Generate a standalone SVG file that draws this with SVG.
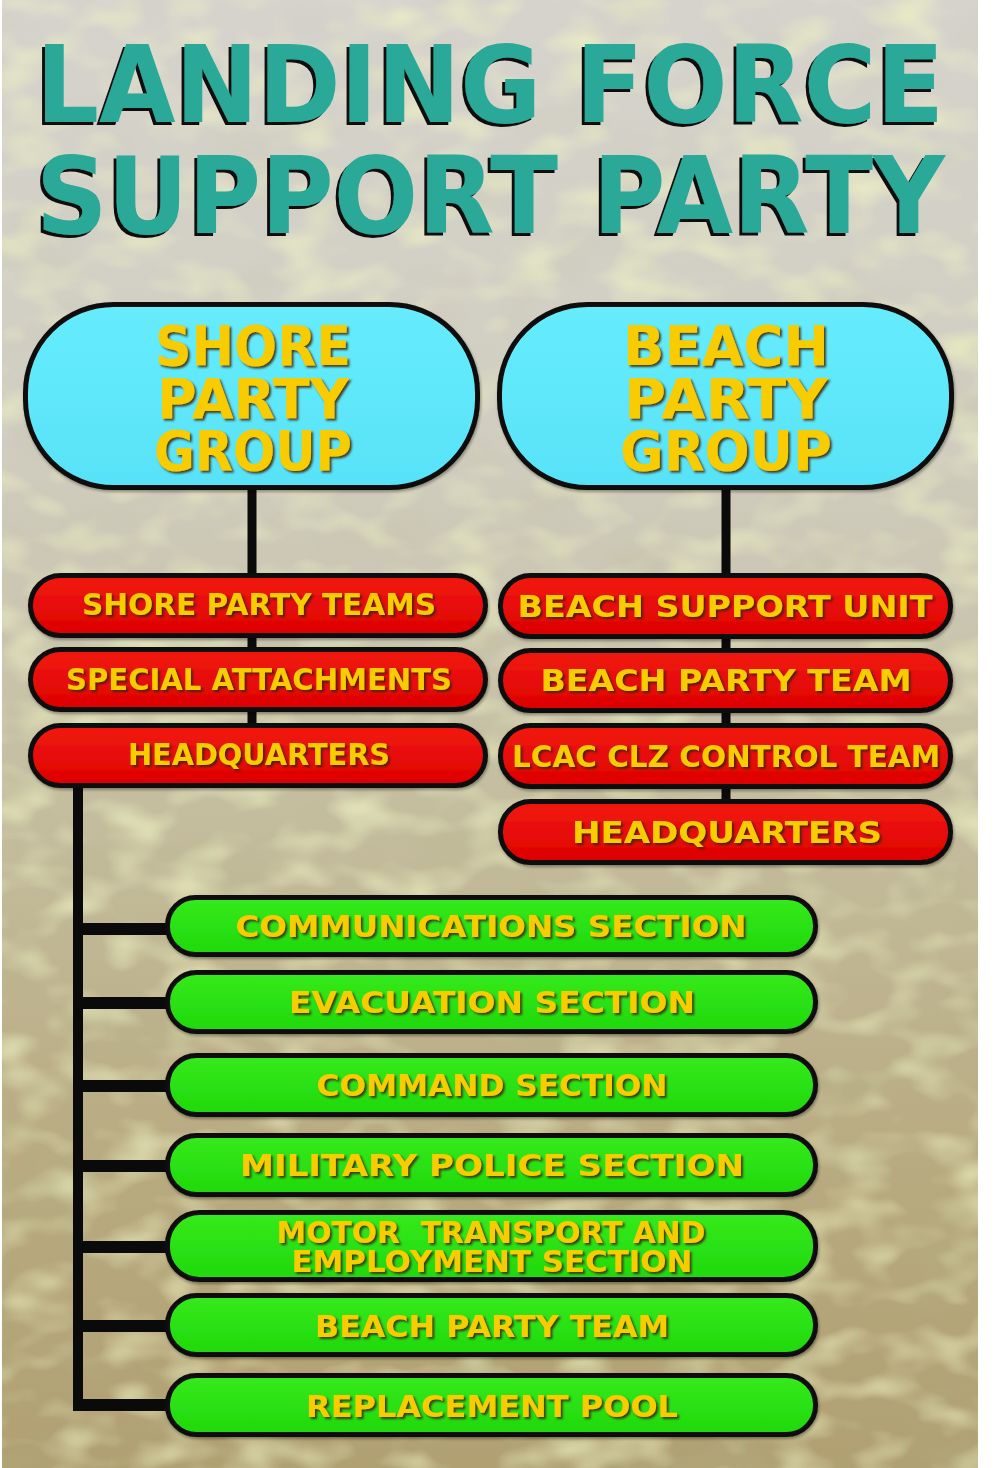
<svg xmlns="http://www.w3.org/2000/svg" width="1000" height="1468" viewBox="0 0 1000 1468">
<defs>
<linearGradient id="bg" x1="0" y1="0" x2="0" y2="1">
<stop offset="0" stop-color="#d6d3cd"/>
<stop offset="0.3" stop-color="#d0cdc0"/>
<stop offset="0.55" stop-color="#c4bd9e"/>
<stop offset="0.8" stop-color="#b8aa80"/>
<stop offset="1" stop-color="#b0a072"/>
</linearGradient>
<filter id="water" x="0" y="0" width="100%" height="100%">
<feTurbulence type="fractalNoise" baseFrequency="0.018 0.03" numOctaves="2" seed="7"/>
<feColorMatrix type="matrix" values="0 0 0 0 0.86  0 0 0 0 0.9  0 0 0 0 0.55  2.2 0 0 0 -1.0"/>
</filter>
<filter id="water2" x="0" y="0" width="100%" height="100%">
<feTurbulence type="fractalNoise" baseFrequency="0.01 0.018" numOctaves="2" seed="21"/>
<feColorMatrix type="matrix" values="0 0 0 0 0.45  0 0 0 0 0.45  0 0 0 0 0.25  2.0 0 0 0 -1.05"/>
</filter>
<linearGradient id="fade" x1="0" y1="0" x2="0" y2="1">
<stop offset="0" stop-color="#fff" stop-opacity="0.2"/>
<stop offset="1" stop-color="#fff" stop-opacity="1"/>
</linearGradient>
<mask id="fadeMask"><rect x="0" y="0" width="1000" height="1468" fill="url(#fade)"/></mask>
<linearGradient id="red" x1="0" y1="0" x2="0" y2="1">
<stop offset="0" stop-color="#f21a12"/>
<stop offset="1" stop-color="#dc0000"/>
</linearGradient>
<linearGradient id="green" x1="0" y1="0" x2="0" y2="1">
<stop offset="0" stop-color="#36ea1c"/>
<stop offset="1" stop-color="#1fd80c"/>
</linearGradient>
<linearGradient id="blue" x1="0" y1="0" x2="0" y2="1">
<stop offset="0" stop-color="#66ecfd"/>
<stop offset="1" stop-color="#58e2f8"/>
</linearGradient>
<filter id="tsh" x="-5%" y="-20%" width="110%" height="150%">
<feDropShadow dx="2" dy="2" stdDeviation="0.8" flood-color="#3a1a00" flood-opacity="0.85"/>
</filter>
<filter id="titlesh" x="-3%" y="-15%" width="106%" height="135%">
<feOffset in="SourceAlpha" dx="-3" dy="3" result="off"/>
<feFlood flood-color="#111111"/>
<feComposite in2="off" operator="in" result="sh"/>
<feMerge><feMergeNode in="sh"/><feMergeNode in="SourceGraphic"/></feMerge>
</filter>
<filter id="psh" x="-5%" y="-10%" width="110%" height="130%">
<feDropShadow dx="1" dy="2" stdDeviation="1.5" flood-color="#000" flood-opacity="0.35"/>
</filter>
</defs>
<style>
.title{font-family:"DejaVu Sans","Liberation Sans",sans-serif;font-weight:bold;font-size:97px;fill:#2aa898;filter:url(#titlesh)}
.lbl{font-family:"DejaVu Sans","Liberation Sans",sans-serif;font-weight:bold;fill:#f9cc00;text-anchor:middle;filter:url(#tsh)}
.big{font-size:55px}
.mid{font-size:30px}
.pill{stroke:#0c0c0c;stroke-width:5;filter:url(#psh)}
.rp{fill:url(#red)}
.gp{fill:url(#green)}
.bp{fill:url(#blue)}
.conn{stroke:#0a0a0a;fill:none}
</style>

<!-- background -->
<rect x="0" y="0" width="1000" height="1468" fill="#ffffff"/>
<rect x="2" y="0" width="976" height="1468" fill="url(#bg)"/>
<rect x="2" y="0" width="976" height="1468" filter="url(#water)" opacity="0.75"/>
<rect x="2" y="0" width="976" height="1468" filter="url(#water2)" opacity="0.5" mask="url(#fadeMask)"/>

<!-- title -->
<g id="title" transform="scale(1,1.1)">
<text class="title" x="36" y="111" textLength="908" lengthAdjust="spacingAndGlyphs">LANDING FORCE</text>
<text class="title" x="36" y="212" textLength="909" lengthAdjust="spacingAndGlyphs">SUPPORT PARTY</text>
</g>

<!-- connectors -->
<g id="connectors">
<line class="conn" x1="252" y1="488" x2="252" y2="730" stroke-width="9"/>
<line class="conn" x1="726" y1="488" x2="726" y2="805" stroke-width="9"/>
<line class="conn" x1="78" y1="780" x2="78" y2="1410" stroke-width="10"/>
<line class="conn" x1="73" y1="929" x2="170" y2="929" stroke-width="12"/>
<line class="conn" x1="73" y1="1003" x2="170" y2="1003" stroke-width="12"/>
<line class="conn" x1="73" y1="1086" x2="170" y2="1086" stroke-width="12"/>
<line class="conn" x1="73" y1="1166" x2="170" y2="1166" stroke-width="12"/>
<line class="conn" x1="73" y1="1247" x2="170" y2="1247" stroke-width="12"/>
<line class="conn" x1="73" y1="1326" x2="170" y2="1326" stroke-width="12"/>
<line class="conn" x1="73" y1="1405" x2="170" y2="1405" stroke-width="12"/>
</g>

<!-- top groups -->
<g id="shore-party-group">
<rect class="pill bp" x="25.5" y="304.5" width="452" height="183" rx="88" ry="88"/>
<text class="lbl big" x="253" y="365" textLength="196" lengthAdjust="spacingAndGlyphs">SHORE</text>
<text class="lbl big" x="253" y="418" textLength="192" lengthAdjust="spacingAndGlyphs">PARTY</text>
<text class="lbl big" x="253" y="470" textLength="198" lengthAdjust="spacingAndGlyphs">GROUP</text>
</g>
<g id="beach-party-group">
<rect class="pill bp" x="499.5" y="304.5" width="452" height="183" rx="88" ry="88"/>
<text class="lbl big" x="726" y="365" textLength="206" lengthAdjust="spacingAndGlyphs">BEACH</text>
<text class="lbl big" x="726" y="418" textLength="204" lengthAdjust="spacingAndGlyphs">PARTY</text>
<text class="lbl big" x="726" y="470" textLength="212" lengthAdjust="spacingAndGlyphs">GROUP</text>
</g>

<!-- shore party red -->
<g id="shore-party-teams">
<rect class="pill rp" x="30.5" y="575.5" width="455" height="60" rx="30"/>
<text class="lbl mid" x="259" y="615" textLength="354" lengthAdjust="spacingAndGlyphs">SHORE PARTY TEAMS</text>
</g>
<g id="special-attachments">
<rect class="pill rp" x="30.5" y="649.5" width="455" height="60" rx="30"/>
<text class="lbl mid" x="259" y="690" textLength="386" lengthAdjust="spacingAndGlyphs">SPECIAL ATTACHMENTS</text>
</g>
<g id="shore-headquarters">
<rect class="pill rp" x="30.5" y="725.5" width="455" height="60" rx="30"/>
<text class="lbl mid" x="259" y="765" textLength="262" lengthAdjust="spacingAndGlyphs">HEADQUARTERS</text>
</g>

<!-- beach party red -->
<g id="beach-support-unit">
<rect class="pill rp" x="500.5" y="575.5" width="450" height="61" rx="30"/>
<text class="lbl mid" x="725" y="617" textLength="415" lengthAdjust="spacingAndGlyphs">BEACH SUPPORT UNIT</text>
</g>
<g id="beach-party-team-red">
<rect class="pill rp" x="500.5" y="650.5" width="450" height="60" rx="30"/>
<text class="lbl mid" x="726" y="691" textLength="371" lengthAdjust="spacingAndGlyphs">BEACH PARTY TEAM</text>
</g>
<g id="lcac-clz-control-team">
<rect class="pill rp" x="500.5" y="725.5" width="450" height="61" rx="30"/>
<text class="lbl mid" x="726" y="767" textLength="428" lengthAdjust="spacingAndGlyphs">LCAC CLZ CONTROL TEAM</text>
</g>
<g id="beach-headquarters">
<rect class="pill rp" x="500.5" y="801.5" width="450" height="61" rx="30"/>
<text class="lbl mid" x="727" y="843" textLength="310" lengthAdjust="spacingAndGlyphs">HEADQUARTERS</text>
</g>

<!-- green sections -->
<g id="communications-section">
<rect class="pill gp" x="167.5" y="897.5" width="648" height="57" rx="28"/>
<text class="lbl mid" x="491" y="937" textLength="511" lengthAdjust="spacingAndGlyphs">COMMUNICATIONS SECTION</text>
</g>
<g id="evacuation-section">
<rect class="pill gp" x="167.5" y="972.5" width="648" height="59" rx="29"/>
<text class="lbl mid" x="492" y="1013" textLength="406" lengthAdjust="spacingAndGlyphs">EVACUATION SECTION</text>
</g>
<g id="command-section">
<rect class="pill gp" x="167.5" y="1055.5" width="648" height="59" rx="29"/>
<text class="lbl mid" x="492" y="1096" textLength="351" lengthAdjust="spacingAndGlyphs">COMMAND SECTION</text>
</g>
<g id="military-police-section">
<rect class="pill gp" x="167.5" y="1135.5" width="648" height="59" rx="29"/>
<text class="lbl mid" x="492" y="1176" textLength="504" lengthAdjust="spacingAndGlyphs">MILITARY POLICE SECTION</text>
</g>
<g id="motor-transport-section">
<rect class="pill gp" x="167.5" y="1212.5" width="648" height="67" rx="32"/>
<text class="lbl mid" x="491" y="1243" textLength="429" lengthAdjust="spacingAndGlyphs" xml:space="preserve">MOTOR  TRANSPORT AND</text>
<text class="lbl mid" x="492" y="1272" textLength="401" lengthAdjust="spacingAndGlyphs">EMPLOYMENT SECTION</text>
</g>
<g id="beach-party-team-green">
<rect class="pill gp" x="167.5" y="1295.5" width="648" height="59" rx="29"/>
<text class="lbl mid" x="492" y="1337" textLength="354" lengthAdjust="spacingAndGlyphs">BEACH PARTY TEAM</text>
</g>
<g id="replacement-pool">
<rect class="pill gp" x="167.5" y="1375.5" width="648" height="59" rx="29"/>
<text class="lbl mid" x="492" y="1417" textLength="372" lengthAdjust="spacingAndGlyphs">REPLACEMENT POOL</text>
</g>
</svg>
